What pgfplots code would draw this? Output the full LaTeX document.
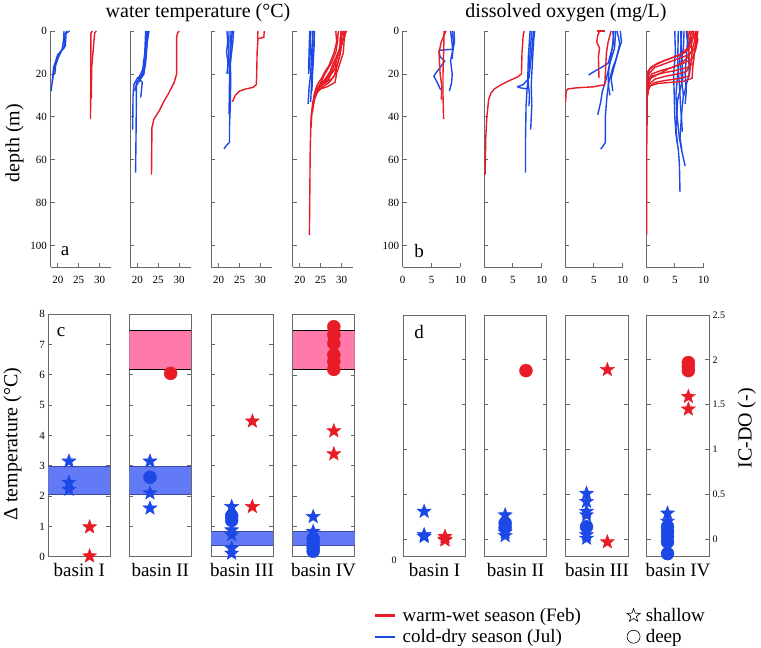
\documentclass[border=0pt]{standalone}
\usepackage{fontspec}
\setmainfont{Liberation Serif}
\usepackage{pgfplots}
\pgfplotsset{compat=1.18}

\definecolor{myred}{RGB}{232,28,38}
\definecolor{myblue}{RGB}{28,72,230}
\definecolor{bandblue}{RGB}{98,122,245}
\definecolor{bandpink}{RGB}{255,122,170}
\definecolor{bandedge}{RGB}{60,75,170}
\definecolor{axgray}{RGB}{105,105,105}

\pgfdeclareplotmark{fstar}{%
 \pgfpathmoveto{\pgfpointpolar{90}{\pgfplotmarksize}}%
 \pgfpathlineto{\pgfpointpolar{126}{0.42\pgfplotmarksize}}%
 \pgfpathlineto{\pgfpointpolar{162}{\pgfplotmarksize}}%
 \pgfpathlineto{\pgfpointpolar{198}{0.42\pgfplotmarksize}}%
 \pgfpathlineto{\pgfpointpolar{234}{\pgfplotmarksize}}%
 \pgfpathlineto{\pgfpointpolar{270}{0.42\pgfplotmarksize}}%
 \pgfpathlineto{\pgfpointpolar{306}{\pgfplotmarksize}}%
 \pgfpathlineto{\pgfpointpolar{342}{0.42\pgfplotmarksize}}%
 \pgfpathlineto{\pgfpointpolar{18}{\pgfplotmarksize}}%
 \pgfpathlineto{\pgfpointpolar{54}{0.42\pgfplotmarksize}}%
 \pgfpathclose
 \pgfusepathqfillstroke}

\newcommand\tfs{\fontsize{11}{13}\selectfont}
\newcommand\sfs{\fontsize{10}{12}\selectfont}
\newcommand\bfs{\fontsize{19}{22}\selectfont}
\newcommand\hfs{\fontsize{20}{24}\selectfont}

\pgfplotsset{
 base/.style={scale only axis, anchor=south west,
   axis line style={draw=axgray, line width=0.8pt},
   tick style={draw=axgray, line width=0.8pt},
   major tick length=4pt, tick align=inside,
   ticklabel style={font=\tfs},
   /pgf/number format/assume math mode=true},
 prof/.style={line width=1.4pt, no markers, line join=round},
 topax/.style={base, height=236pt, ymin=-110, ymax=0,
   y filter/.expression={-y},
   axis x line*=bottom, axis y line*=left,
   xticklabel style={yshift=-5.5pt},
   ytick={0,-20,-40,-60,-80,-100}, yticklabels={}},
 topT/.style={topax, width=60.5pt, xmin=18.27, xmax=32.7, xtick={20,25,30}},
 topO/.style={topax, width=57.6pt, xmin=0, xmax=10, xtick={0,5,10}},
 cax/.style={base, width=62pt, height=242.4pt, xmin=0, xmax=3, ymin=0, ymax=8,
   xtick=\empty, ytick={0,1,...,8}, yticklabels={},
   xlabel style={font=\bfs, at={(axis description cs:0.5,0)}, anchor=north, yshift=-3pt}},
 dax/.style={base, width=62.5pt, height=241.7pt, xmin=0, xmax=3, ymin=-0.194, ymax=2.5,
   xtick=\empty, ytick={0,0.5,1,1.5,2,2.5}, yticklabels={},
   xlabel style={font=\bfs, at={(axis description cs:0.5,0)}, anchor=north, yshift=-3pt}},
 bstar/.style={only marks, mark=fstar, mark size=7.4pt, color=myblue},
 rstar/.style={only marks, mark=fstar, mark size=7.4pt, color=myred},
 bcirc/.style={only marks, mark=*, mark size=6.5pt, color=myblue},
 rcirc/.style={only marks, mark=*, mark size=6.5pt, color=myred},
 bband/.style={fill=bandblue, draw=none},
 pband/.style={fill=bandpink, draw=none},
 markleg/.style={legend image code/.code={\draw[##1] plot coordinates {(7pt,0pt)}; \path (16pt,0pt);}},
 redleg/.style={legend image code/.code={\fill[myred] (0pt,-0.9pt) rectangle (19pt,0.9pt); \path (24pt,0pt);}},
 blueleg/.style={legend image code/.code={\fill[myblue] (0pt,-0.9pt) rectangle (19pt,0.9pt); \path (24pt,0pt);}},
}

\begin{document}
\begin{tikzpicture}[x=1pt,y=1pt]
\path[use as bounding box] (0,0) rectangle (761,648);

% ---------------- a: water temperature profiles ----------------
\begin{axis}[topT, at={(50.5pt,381pt)}, yticklabels={0,20,40,60,80,100}]
\addplot[prof,myblue] coordinates {(22.8,0)(22.0,1)(21.8,7)(20.5,10)(19.3,16)(18.8,22)(18.4,28)};
\addplot[prof,myblue] coordinates {(22.2,0)(21.6,2)(21.5,8)(20.0,11)(19.0,17)(18.7,24)};
\addplot[prof,myblue] coordinates {(21.5,0)(21.4,4)(21.0,9)(20.2,12)(19.5,16)(19.3,20)};
\addplot[prof,myred] coordinates {(28.3,0)(27.9,1)(27.9,20)(27.8,41)};
\addplot[prof,myred] coordinates {(29.2,0)(28.8,1)(28.1,17)(28.0,31.5)};
\end{axis}

\begin{axis}[topT, at={(130pt,381pt)}]
\addplot[prof,myblue] coordinates {(22.8,0)(22.4,5)(22.0,15)(21.5,20)(20.0,22)(19.2,25)(19.0,30)(18.9,46)};
\addplot[prof,myblue] coordinates {(22.5,0)(22.2,8)(21.8,16)(21.0,21)(19.8,24)(19.8,30)(19.7,50)(19.6,66)};
\addplot[prof,myblue] coordinates {(22.0,0)(21.8,10)(21.3,18)(20.3,22)(21.2,24)(21.0,28)(20.8,31)};
\addplot[prof,myblue] coordinates {(22.3,0)(21.9,12)(21.6,20)(19.6,26)(19.4,28)};
\addplot[prof,myred] coordinates {(30.0,0)(29.6,1)(29.4,3)(29.4,20)(28.8,24)(27.5,29)(26.3,33)(25.3,37)(24.0,41)(23.5,45)(23.4,67)};
\end{axis}

\begin{axis}[topT, at={(211.3pt,381pt)}]
\addplot[prof,myblue] coordinates {(22.0,0)(22.2,5)(21.9,10)(22.3,15)(22.0,20)};
\addplot[prof,myblue] coordinates {(23.6,0)(23.4,5)(23.0,12)(22.6,18)(22.6,25)(22.5,39)};
\addplot[prof,myblue] coordinates {(23.0,0)(22.8,8)(22.7,14)(22.5,20)};
\addplot[prof,myblue] coordinates {(23.3,0)(23.0,6)(22.8,14)(22.9,22)(22.8,35)(22.6,45)(22.6,52)(21.8,53.5)(21.3,55)};
\addplot[prof,myblue] coordinates {(22.5,0)(22.4,10)(22.2,17)};
\addplot[prof,myred] coordinates {(30.9,0)(30.8,3)(29.4,3.5)(29.2,10)(29.1,20)(29.0,25)(28.2,26.3)(26.5,27)(25.0,28)(24.0,30)(23.3,33)};
\addplot[prof,myred] coordinates {(29.4,0)(29.3,3.5)};
\end{axis}

\begin{axis}[topT, at={(292.5pt,381pt)}]
\addplot[prof,myblue] coordinates {(23.2,0)(23.0,5)(22.8,12)(22.6,20)(22.2,27)(22.0,34)};
\addplot[prof,myblue] coordinates {(23.5,0)(23.4,8)(23.2,15)(23.0,22)(22.9,28)};
\addplot[prof,myblue] coordinates {(22.6,0)(22.5,10)(22.3,16)(22.1,20)};
\addplot[prof,myblue] coordinates {(23.0,0)(23.2,6)(23.0,14)(22.8,25)(22.6,33)};
\addplot[prof,myblue] coordinates {(22.4,0)(22.3,5)(22.2,12)(22.1,18)};
\addplot[prof,myred] coordinates {(29.2,0)(29.0,5)(28.6,10)(27.5,15)(26.0,20)(25.0,24)(24.0,28)(23.2,33)(22.7,40)(22.5,55)(22.4,75)(22.3,95)};
\addplot[prof,myred] coordinates {(30.5,0)(29.8,3)(29.5,8)(28.8,13)(27.8,18)(26.5,22)(25.0,25)(24.0,27)(23.4,31)};
\addplot[prof,myred] coordinates {(31.2,0)(30.5,2)(30.0,6)(29.5,12)(28.8,17)(28.2,21)(27.0,24)(25.5,26)(24.3,28)(23.5,32)(23.0,38)};
\addplot[prof,myred] coordinates {(30.0,0)(29.6,4)(29.8,9)(29.2,14)(28.3,18)(27.2,21)(25.8,24)(24.6,26.5)(23.6,30)};
\addplot[prof,myred] coordinates {(28.6,0)(28.8,5)(28.2,10)(27.0,16)(26.0,19)(25.2,22)(24.2,25)(23.5,29)(23.0,35)(22.7,45)};
\addplot[prof,myred] coordinates {(30.8,0)(30.2,5)(29.0,11)(28.5,16)(28.8,20)(28.4,24)(26.5,26)(25.0,27)(24.0,29)};
\addplot[prof,myred] coordinates {(29.8,0)(30.0,6)(29.2,10)(28.0,15)(27.2,19)(26.0,22.5)(24.8,25)(23.8,28)(23.2,34)};
\addplot[prof,myred] coordinates {(31.0,0)(30.6,4)(30.4,10)(29.6,15)(28.9,19)(27.8,22)(26.2,24)(24.8,26)(24.0,28.5)(23.4,31)};
\addplot[prof,myred] coordinates {(30.3,0)(30.4,3)(29.9,7)(29.0,12)(28.0,17)(27.4,20)(26.8,23)(25.3,25)(24.3,27)(23.7,29)};
\end{axis}

% ---------------- b: dissolved oxygen profiles ----------------
\begin{axis}[topO, at={(402.7pt,381pt)}, yticklabels={0,20,40,60,80,100}]
\addplot[prof,myblue] coordinates {(8.6,0)(8.8,5)(8.7,8.5)(6.3,9)(6.5,12)(7.3,14)(6.5,17)(5.4,21)(6.0,24)(6.6,27.5)};
\addplot[prof,myblue] coordinates {(8.9,0)(9.0,5)(8.6,10)(8.3,14)(8.6,20)(8.5,24)(8.1,28)};
\addplot[prof,myblue] coordinates {(8.3,0)(8.5,4)(8.7,9)(8.6,13)};
\addplot[prof,myred] coordinates {(7.5,0)(6.7,5)(6.3,10)(6.5,20)(6.8,26)(6.7,32)};
\addplot[prof,myred] coordinates {(7.2,0)(7.1,10)(7.0,20)(7.0,30)(7.1,41)};
\end{axis}

\begin{axis}[topO, at={(484pt,381pt)}]
\addplot[prof,myblue] coordinates {(8.8,0)(8.6,5)(8.4,15)(8.2,25)(8.3,35)(8.1,46)};
\addplot[prof,myblue] coordinates {(8.3,0)(8.0,10)(7.8,20)(7.5,26)(7.3,35)(7.2,52)(7.2,66)};
\addplot[prof,myblue] coordinates {(8.6,0)(8.2,12)(7.8,22)(6.8,25)(5.8,26)(6.3,26.5)(7.5,27)};
\addplot[prof,myblue] coordinates {(8.0,0)(7.7,12)(7.6,22)(7.9,30)(7.8,35)};
\addplot[prof,myred] coordinates {(7.0,0)(6.8,2)(6.6,10)(6.5,20)(5.8,21.5)(4.5,23)(3.0,25)(1.8,27)(1.2,29)(0.8,32)(0.5,40)(0.3,50)(0.2,67)};
\end{axis}

\begin{axis}[topO, at={(565pt,381pt)}]
\addplot[prof,myblue] coordinates {(8.3,0)(8.5,5)(8.0,10)(7.5,15)(6.3,17)(5.0,19)(4.1,20.5)};
\addplot[prof,myblue] coordinates {(9.0,0)(9.3,3)(9.5,6)(9.0,12)(8.2,18)(7.6,24)(7.3,30)(7.0,40)(7.0,52)(6.5,54)(6.2,55)};
\addplot[prof,myblue] coordinates {(8.8,0)(8.6,8)(7.8,15)(7.2,22)(6.5,28)(6.2,33)(5.7,39)};
\addplot[prof,myblue] coordinates {(8.5,0)(8.2,8)(7.6,18)(7.5,25)(7.8,30)};
\addplot[prof,myblue] coordinates {(9.6,0)(9.8,5)(9.2,10)(8.5,17)(8.0,22)(8.3,28)};
\addplot[prof,myred] coordinates {(6.0,0)(5.7,2)(5.5,5)(6.0,8)(5.8,12)(5.9,22)};
\addplot[prof,myred] coordinates {(5.5,0)(7.0,0)};
\addplot[prof,myred] coordinates {(8.0,0)(7.5,5)(7.2,10)(7.0,20)(6.9,25)(5.0,26)(2.0,26.5)(0.5,27)(0.2,28)(0.1,33)};
\end{axis}

\begin{axis}[topO, at={(646pt,381pt)}]
\addplot[prof,myblue] coordinates {(5.0,0)(5.1,10)(4.8,20)(4.9,30)(5.0,40)(5.2,48)(5.6,55)(5.8,62)(5.9,75)};
\addplot[prof,myblue] coordinates {(6.2,0)(6.0,10)(5.5,20)(5.2,30)(5.4,40)(5.8,50)(6.3,57)(6.8,63)};
\addplot[prof,myblue] coordinates {(5.6,0)(5.5,15)(5.8,25)(6.0,35)(6.2,42)(6.3,47)};
\addplot[prof,myblue] coordinates {(7.0,0)(7.2,5)(7.0,12)(6.8,20)(7.0,28)(6.8,34)};
\addplot[prof,myblue] coordinates {(6.6,0)(6.5,8)(6.0,16)(6.2,24)(6.5,30)(6.2,38)(5.9,50)(6.2,55)};
\addplot[prof,myblue] coordinates {(6.0,0)(6.2,10)(6.4,22)(5.5,32)(5.2,45)(5.4,52)};
\addplot[prof,myblue] coordinates {(7.2,0)(7.4,10)(7.5,20)(7.0,25)(6.6,30)};
\addplot[prof,myred] coordinates {(7.5,0)(8.0,4)(7.2,8)(6.0,11)(4.0,13)(2.0,15)(0.8,17)(0.3,19)(0.2,25)(0.2,40)(0.1,60)(0.1,95)};
\addplot[prof,myred] coordinates {(8.0,0)(8.8,3)(8.5,8)(7.5,11)(5.5,13)(3.5,15)(1.5,17)(0.5,20)(0.3,26)};
\addplot[prof,myred] coordinates {(8.5,0)(9.0,4)(8.6,9)(8.0,13)(6.5,15)(4.5,17)(2.5,18.5)(1.0,20)(0.4,23)(0.3,30)};
\addplot[prof,myred] coordinates {(9.0,0)(8.8,5)(8.4,10)(8.2,15)(7.2,17)(5.0,18.5)(3.0,19.5)(1.0,21)(0.4,24)(0.3,28)};
\addplot[prof,myred] coordinates {(7.2,0)(7.6,5)(7.4,10)(7.6,16)(7.0,19)(5.5,20)(3.5,21)(1.5,22.5)(0.5,25)(0.3,30)};
\addplot[prof,myred] coordinates {(8.2,0)(8.6,6)(8.3,12)(8.1,18)(8.0,22)(6.5,23.5)(4.0,24)(2.0,24.5)(0.8,25.5)(0.3,28)};
\addplot[prof,myred] coordinates {(7.8,0)(8.2,3)(7.8,7)(6.8,10)(5.0,12)(3.0,14)(1.5,16)(0.6,18)(0.3,22)};
\addplot[prof,myred] coordinates {(8.8,0)(8.5,4)(8.0,9)(7.0,13)(5.8,15.5)(4.0,17.5)(2.2,20)(0.8,22)(0.3,26)};
\addplot[prof,myred] coordinates {(7.6,0)(8.0,10)(7.8,15)(7.5,21)(6.0,22)(3.5,23)(1.5,24)(0.5,26)(0.2,29)};
\end{axis}

% ---------------- c: delta temperature ----------------
\begin{axis}[cax, at={(48.3pt,91.3pt)}, yticklabels={0,1,2,3,4,5,6,7,8}, xlabel={basin I}]
\addplot[bband] coordinates {(0,2.07)(3,2.07)(3,2.97)(0,2.97)};
\addplot[bandedge, line width=0.7pt] coordinates {(0,2.07)(3,2.07)};
\addplot[bandedge, line width=0.7pt] coordinates {(0,2.97)(3,2.97)};
\addplot[bstar] coordinates {(1,3.15)(1,2.45)(1,2.22)};
\addplot[rstar] coordinates {(2,0.98)(2,0.02)};
\end{axis}

\begin{axis}[cax, at={(129.3pt,91.3pt)}, xlabel={basin II}]
\addplot[bband] coordinates {(0,2.07)(3,2.07)(3,2.97)(0,2.97)};
\addplot[bandedge, line width=0.7pt] coordinates {(0,2.07)(3,2.07)};
\addplot[bandedge, line width=0.7pt] coordinates {(0,2.97)(3,2.97)};
\addplot[pband] coordinates {(0,6.17)(3,6.17)(3,7.47)(0,7.47)};
\addplot[black, line width=0.7pt] coordinates {(0,6.17)(3,6.17)};
\addplot[black, line width=0.7pt] coordinates {(0,7.47)(3,7.47)};
\addplot[bstar] coordinates {(1,3.15)(1,2.1)(1,1.6)};
\addplot[bcirc] coordinates {(1,2.62)};
\addplot[rcirc] coordinates {(2,6.05)};
\end{axis}

\begin{axis}[cax, at={(211pt,91.3pt)}, xlabel={basin III}]
\addplot[bband] coordinates {(0,0.37)(3,0.37)(3,0.85)(0,0.85)};
\addplot[bandedge, line width=0.7pt] coordinates {(0,0.37)(3,0.37)};
\addplot[bandedge, line width=0.7pt] coordinates {(0,0.85)(3,0.85)};
\addplot[bstar] coordinates {(1,1.65)(1,0.88)(1,0.72)(1,0.28)(1,0.11)};
\addplot[bcirc] coordinates {(1,1.35)(1,1.2)};
\addplot[rstar] coordinates {(2,4.47)(2,1.65)};
\end{axis}

\begin{axis}[cax, at={(292.5pt,91.3pt)}, xlabel={basin IV}]
\addplot[bband] coordinates {(0,0.37)(3,0.37)(3,0.85)(0,0.85)};
\addplot[bandedge, line width=0.7pt] coordinates {(0,0.37)(3,0.37)};
\addplot[bandedge, line width=0.7pt] coordinates {(0,0.85)(3,0.85)};
\addplot[pband] coordinates {(0,6.17)(3,6.17)(3,7.47)(0,7.47)};
\addplot[black, line width=0.7pt] coordinates {(0,6.17)(3,6.17)};
\addplot[black, line width=0.7pt] coordinates {(0,7.47)(3,7.47)};
\addplot[bstar] coordinates {(1,1.32)(1,0.83)};
\addplot[bcirc] coordinates {(1,0.6)(1,0.44)(1,0.3)(1,0.18)};
\addplot[rcirc] coordinates {(2,7.59)(2,7.32)(2,7.04)(2,6.66)(2,6.44)(2,6.18)};
\addplot[rstar] coordinates {(2,4.15)(2,3.39)};
\end{axis}

% ---------------- d: IC-DO ----------------
\begin{axis}[dax, at={(403.3pt,91.3pt)}, xlabel={basin I}]
\addplot[bstar] coordinates {(1,0.31)(1,0.05)(1,0.03)};
\addplot[rstar] coordinates {(2,0.03)(2,0.0)(2,-0.01)};
\end{axis}

\begin{axis}[dax, at={(484.3pt,91.3pt)}, xlabel={basin II}]
\addplot[bstar] coordinates {(1,0.27)(1,0.08)(1,0.04)};
\addplot[bcirc] coordinates {(1,0.18)(1,0.13)};
\addplot[rcirc] coordinates {(2,1.88)};
\end{axis}

\begin{axis}[dax, at={(565.7pt,91.3pt)}, xlabel={basin III}]
\addplot[bstar] coordinates {(1,0.51)(1,0.42)(1,0.31)(1,0.27)(1,0.05)(1,0.01)};
\addplot[bcirc] coordinates {(1,0.14)};
\addplot[rstar] coordinates {(2,1.89)(2,-0.03)};
\end{axis}

\begin{axis}[dax, at={(646.7pt,91.3pt)}, xlabel={basin IV},
  yticklabel pos=right, yticklabels={0,0.5,1,1.5,2,2.5}, yticklabel style={font=\sfs}]
\addplot[bstar] coordinates {(1,0.29)(1,0.2)};
\addplot[bcirc] coordinates {(1,0.14)(1,0.085)(1,0.03)(1,-0.03)(1,-0.16)};
\addplot[rcirc] coordinates {(2,1.97)(2,1.93)(2,1.88)};
\addplot[rstar] coordinates {(2,1.59)(2,1.45)};
\end{axis}

% ---------------- legend ----------------
\begin{axis}[hide axis, scale only axis, width=1pt, height=1pt, anchor=south west,
  at={(375pt,42pt)}, xmin=0, xmax=1, ymin=0, ymax=1,
  legend columns=2,
  legend style={at={(0,0)}, anchor=north west, draw=none, fill=none,
    font=\bfs, inner sep=0pt, row sep=2.5pt,
    /tikz/every odd column/.append style={column sep=1pt},
    /tikz/every even column/.append style={column sep=44pt}},
  legend cell align=left]
\addlegendimage{redleg}
\addlegendentry{warm-wet season (Feb)}
\addlegendimage{only marks, mark=fstar, mark size=7pt, mark options={draw=black, fill=white, line width=0.6pt}, markleg}
\addlegendentry{shallow}
\addlegendimage{blueleg}
\addlegendentry{cold-dry season (Jul)}
\addlegendimage{only marks, mark=*, mark size=6.5pt, mark options={draw=black, fill=white, line width=0.6pt}, markleg}
\addlegendentry{deep}
\end{axis}

% ---------------- text ----------------
\node[font=\hfs] at (198pt,635.5pt) {water temperature (°C)};
\node[font=\hfs] at (566pt,635.5pt) {dissolved oxygen (mg/L)};
\node[font=\hfs, rotate=90] at (14.5pt,505pt) {depth (m)};
\node[font=\hfs, rotate=90] at (12.5pt,204pt) {Δ temperature (°C)};
\node[font=\hfs, rotate=90] at (746.7pt,219.7pt) {IC-DO (-)};
\node[font=\bfs] at (65pt,396.5pt) {a};
\node[font=\bfs] at (419pt,397pt) {b};
\node[font=\bfs] at (61pt,315.5pt) {c};
\node[font=\bfs] at (419pt,316.3pt) {d};
\node[font=\sfs] at (394pt,88pt) {0};
\end{tikzpicture}
\end{document}
